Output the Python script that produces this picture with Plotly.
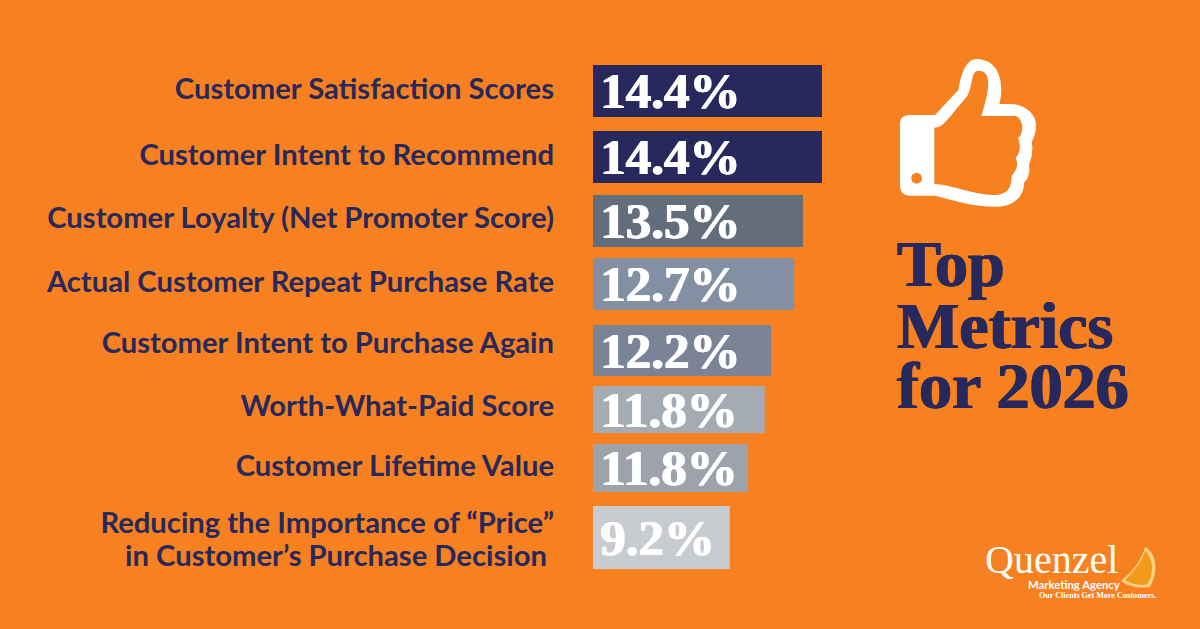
import plotly.graph_objects as go

W, H = 1200, 629

# ---- data ----
categories = [
    "Customer Satisfaction Scores",
    "Customer Intent to Recommend",
    "Customer Loyalty (Net Promoter Score)",
    "Actual Customer Repeat Purchase Rate",
    "Customer Intent to Purchase Again",
    "Worth-What-Paid Score",
    "Customer Lifetime Value",
    "Reducing the Importance of “Price”<br>in Customer’s Purchase Decision",
]
value_labels = ["14.4%", "14.4%", "13.5%", "12.7%", "12.2%", "11.8%", "11.8%", "9.2%"]
# drawn bar lengths: in the picture they are not proportional to the printed labels
bar_lengths = [14.4, 14.4, 13.2, 12.65, 11.2, 10.8, 9.75, 8.6]

# ---- styling / layout ----
bar_colors = ["#27285B", "#27285B", "#646D7B", "#838FA3", "#7B8496", "#A5ABB3", "#9EA3AB", "#C8CBCF"]
ORANGE = "#F78120"
NAVY = "#27285B"
SERIF = "Liberation Serif"

ROW_PX = 63.7
FIRST_PX = 91
bar_top_px = [65, 131, 195, 258, 325, 386, 444, 506]
bar_height_px = [52, 52, 52, 52, 51, 47, 48, 63]
# one centre per printed label line (the last category wraps on two lines)
label_center_px = [89, 155, 218, 282, 343, 406, 466, 523, 556]
PX_PER_UNIT = 229 / 14.4
BAR_LEFT = 593

rows = list(range(len(categories)))
offsets = [(t - (FIRST_PX + ROW_PX * i)) / ROW_PX for i, t in enumerate(bar_top_px)]
widths = [h / ROW_PX for h in bar_height_px]
tick_rows = [(c - FIRST_PX) / ROW_PX for c in label_center_px]
tick_lines = [line for c in categories for line in c.split("<br>")]
tick_lines[-1] += "\u00a0"

fig = go.Figure(go.Bar(
    y=rows,
    x=bar_lengths,
    base=0,
    orientation="h",
    width=widths,
    offset=offsets,
    marker=dict(color=bar_colors, line=dict(width=0)),
    text=["\u200a" + v for v in value_labels],
    textposition="inside",
    insidetextanchor="start",
    constraintext="none",
    textangle=0,
    textfont=dict(family=SERIF, size=51, color="white", weight="bold",
                  shadow="0.7px 0 0 white, -0.7px 0 0 white"),
    hoverinfo="skip",
))


def paper_path(segments):
    out = []
    for cmd, pts in segments:
        coords = " ".join(f"{x / W:.5f},{1 - y / H:.5f}" for x, y in pts)
        out.append(f"{cmd}{coords}")
    return " ".join(out) + " Z"


def zoom_pts(ox, oy, seq):
    return [(cmd, [(ox + x / 3, oy + y / 3) for x, y in pts]) for cmd, pts in seq]


thumb_outer = [
    ("M", [(85, 225)]),
    ("Q", [(60, 228), (60, 250)]),
    ("L", [(60, 440)]),
    ("Q", [(62, 465), (88, 467)]),
    ("L", [(165, 467)]),
    ("C", [(210, 478), (270, 500), (350, 500)]),
    ("C", [(400, 500), (432, 470), (432, 428)]),
    ("Q", [(452, 410), (447, 375)]),
    ("Q", [(462, 340), (455, 305)]),
    ("Q", [(468, 285), (468, 255)]),
    ("C", [(468, 220), (430, 192), (390, 192)]),
    ("L", [(358, 192)]),
    ("C", [(370, 150), (370, 60), (290, 57)]),
    ("C", [(262, 57), (245, 90), (235, 150)]),
    ("L", [(165, 225)]),
]
thumb_inner = [
    ("M", [(163, 263)]),
    ("C", [(190, 263), (200, 240), (262, 168)]),
    ("C", [(280, 130), (272, 95), (295, 92)]),
    ("C", [(330, 92), (335, 130), (304, 228)]),
    ("L", [(408, 228)]),
    ("C", [(432, 240), (432, 280), (414, 295)]),
    ("Q", [(428, 325), (407, 355)]),
    ("Q", [(420, 380), (395, 407)]),
    ("C", [(395, 440), (385, 465), (340, 465)]),
    ("C", [(280, 465), (210, 432), (163, 432)]),
]
thumb_hole = [
    ("M", [(94, 415)]),
    ("C", [(94, 394), (126, 394), (126, 415)]),
    ("C", [(126, 436), (94, 436), (94, 415)]),
]
thumb_path = " ".join(paper_path(zoom_pts(880, 40, s)) for s in (thumb_outer, thumb_inner, thumb_hole))

slice_body = [
    ("M", [(483, 153)]),
    ("C", [(510, 130), (540, 100), (556, 50)]),
    ("C", [(594, 75), (594, 130), (570, 170)]),
    ("C", [(540, 177), (505, 170), (483, 153)]),
]
slice_flesh = [
    ("M", [(495, 150)]),
    ("C", [(520, 125), (545, 95), (556, 62)]),
    ("C", [(582, 90), (582, 130), (562, 163)]),
    ("C", [(535, 168), (515, 162), (495, 150)]),
]

shapes = [
    dict(type="path", xref="paper", yref="paper", path=thumb_path, fillcolor="white",
         line=dict(width=0), fillrule="evenodd", layer="above"),
    dict(type="path", xref="paper", yref="paper", path=paper_path(zoom_pts(960, 530, slice_body)),
         fillcolor="#FFCF85", line=dict(width=0), layer="above"),
    dict(type="path", xref="paper", yref="paper", path=paper_path(zoom_pts(960, 530, slice_flesh)),
         fillcolor="#F29A1C", line=dict(width=0), layer="above"),
]


def note(text, x, y, size, family, color="white", weight="normal", anchor="left", shadow="none"):
    return dict(text=text, xref="paper", yref="paper", x=x / W, y=1 - y / H, xanchor=anchor, yanchor="middle",
                showarrow=False, font=dict(family=family, size=size, color=color, weight=weight, shadow=shadow),
                borderpad=0, borderwidth=0)


TITLE_SHADOW = f"0.8px 0 0 {NAVY}, -0.8px 0 0 {NAVY}"
annotations = [
    note("Top", 897, 263, 66, SERIF, NAVY, "bold", shadow=TITLE_SHADOW),
    note("Metrics", 897, 325, 66, SERIF, NAVY, "bold", shadow=TITLE_SHADOW),
    note("for 2026", 897, 385, 66, SERIF, NAVY, "bold", shadow=TITLE_SHADOW),
    note("Quenzel", 985, 559, 40, SERIF),
    note("Marketing Agency", 1028, 584, 11.3, "Lato", "white", "bold"),
    note("Our Clients Get More Customers.", 1039, 595, 8.1, SERIF, "white", "bold"),
]

fig.update_layout(
    width=W,
    height=H,
    margin=dict(l=0, r=0, t=0, b=0),
    paper_bgcolor=ORANGE,
    plot_bgcolor=ORANGE,
    showlegend=False,
    shapes=shapes,
    annotations=annotations,
    xaxis=dict(domain=[BAR_LEFT / W, 1], range=[0, (W - BAR_LEFT) / PX_PER_UNIT], visible=False, fixedrange=True),
    yaxis=dict(
        range=[(H - FIRST_PX) / ROW_PX, -FIRST_PX / ROW_PX],
        tickmode="array",
        tickvals=tick_rows,
        ticktext=tick_lines,
        ticks="",
        showgrid=False,
        zeroline=False,
        showline=False,
        ticklabelstandoff=38,
        automargin=False,
        fixedrange=True,
        tickfont=dict(family="Lato", size=29.2, color=NAVY, weight="bold"),
    ),
)

fig.write_html(
    "out.html",
    config={"displayModeBar": False},
    post_script="document.body.style.margin='0';document.body.style.overflow='hidden';",
)
